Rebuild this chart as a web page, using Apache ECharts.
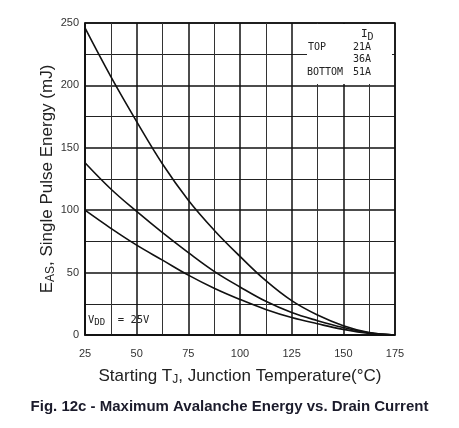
<!DOCTYPE html>
<html>
<head>
<meta charset="utf-8">
<script src="https://cdn.jsdelivr.net/npm/echarts@6/dist/echarts.min.js"></script>
<style>
html, body { margin: 0; padding: 0; background: #fff; }
#chart { width: 459px; height: 428px; }
</style>
</head>
<body>
<div id="chart"></div>
<script>
// starting junction temperature (°C)
var temps = [25, 37.5, 50, 62.5, 75, 87.5, 100, 112.5, 125, 137.5, 150, 162.5, 175];
// EAS (mJ), one list per drain current
var eas21A = [246, 207, 171, 137, 108, 84, 63, 43.5, 27.5, 16, 7.5, 2, 0];
var eas36A = [138, 117, 99, 82, 66, 51, 38.5, 27, 18, 11.5, 6, 1.8, 0];
var eas51A = [100, 85.5, 72, 60, 48, 37.5, 28.5, 20.5, 14, 9, 4.5, 1.3, 0];
var currentNames = ['21A', '36A', '51A'];

var myChart = echarts.init(document.getElementById('chart'));

function pairs(ys) {
	var out = [];
	for (var i = 0; i < temps.length; i++) {
		out.push([temps[i], ys[i]]);
	}
	return out;
}

function curve(name, ys) {
	return {
		name: name,
		type: 'line',
		data: pairs(ys),
		showSymbol: false,
		smooth: 0.4,
		lineStyle: { color: '#111', width: 1.6 },
		z: 5
	};
}

var mono = 'DejaVu Sans Mono';

var option = {
	backgroundColor: '#fff',
	animation: false,
	grid: {
		left: 85, right: 64, top: 23, bottom: 93,
		show: true,
		borderColor: '#111',
		borderWidth: 1.5
	},
	xAxis: {
		type: 'value',
		min: 25, max: 175, interval: 25,
		name: 'Starting T{sub|J}, Junction Temperature(°C)',
		nameLocation: 'middle',
		nameGap: 31,
		nameMoveOverlap: false,
		nameTextStyle: {
			fontFamily: 'Liberation Sans', fontSize: 17, color: '#222',
			rich: { sub: { fontFamily: 'Liberation Sans', fontSize: 12, color: '#222', padding: [8, 0, 0, 0] } }
		},
		axisLine: { show: true, lineStyle: { color: '#111', width: 1.5 } },
		axisTick: { show: false },
		axisLabel: { fontFamily: 'Liberation Sans', fontSize: 11, color: '#333', margin: 13 },
		splitLine: { show: true, lineStyle: { color: '#111', width: 1.5 } },
		minorTick: { show: false, splitNumber: 2 },
		minorSplitLine: { show: true, lineStyle: { color: '#333', width: 1 } }
	},
	yAxis: {
		type: 'value',
		min: 0, max: 250, interval: 50,
		name: 'E{sub|AS}, Single Pulse Energy (mJ)',
		nameLocation: 'middle',
		nameGap: 28,
		nameMoveOverlap: false,
		nameTextStyle: {
			fontFamily: 'Liberation Sans', fontSize: 17, color: '#222',
			rich: { sub: { fontFamily: 'Liberation Sans', fontSize: 12, color: '#222', padding: [8, 0, 0, 0] } }
		},
		axisLine: { show: true, lineStyle: { color: '#111', width: 1.5 } },
		axisTick: { show: false },
		axisLabel: { fontFamily: 'Liberation Sans', fontSize: 11, color: '#333', margin: 6 },
		splitLine: { show: true, lineStyle: { color: '#111', width: 1.5 } },
		minorTick: { show: false, splitNumber: 2 },
		minorSplitLine: { show: true, lineStyle: { color: '#222', width: 1.2 } }
	},
	series: [
		curve(currentNames[0], eas21A),
		curve(currentNames[1], eas36A),
		curve(currentNames[2], eas51A)
	],
	graphic: [
		// white legend box in the top right corner
		{ type: 'rect', z: 100, shape: { x: 307, y: 24, width: 85, height: 60 }, style: { fill: '#fff' } },
		{ type: 'text', z: 101, left: 361, top: 29,
			style: { text: 'I{s|D}', font: '11px ' + mono, fill: '#222',
				rich: { s: { font: '10px ' + mono, fill: '#222', padding: [5, 0, 0, 0] } } } },
		{ type: 'text', z: 101, left: 308, top: 42, style: { text: 'TOP', font: '10px ' + mono, fill: '#222' } },
		{ type: 'text', z: 101, left: 353, top: 42, style: { text: currentNames[0], font: '10px ' + mono, fill: '#222' } },
		{ type: 'text', z: 101, left: 353, top: 54, style: { text: currentNames[1], font: '10px ' + mono, fill: '#222' } },
		{ type: 'text', z: 101, left: 307, top: 67, style: { text: 'BOTTOM', font: '10px ' + mono, fill: '#222' } },
		{ type: 'text', z: 101, left: 353, top: 67, style: { text: currentNames[2], font: '10px ' + mono, fill: '#222' } },
		// supply voltage note
		{ type: 'text', z: 101, left: 88, top: 315,
			style: { text: 'V{s|DD}  = 25V', font: '10.5px ' + mono, fill: '#222',
				rich: { s: { font: '9px ' + mono, fill: '#222', padding: [4, 0, 0, 0] } } } },
		// figure caption
		{ type: 'text', left: 'center', top: 399,
			style: { text: 'Fig. 12c - Maximum Avalanche Energy vs. Drain Current',
				font: 'bold 15px Liberation Sans', fill: '#1b1b2b' } }
	]
};

myChart.setOption(option);
</script>
</body>
</html>
